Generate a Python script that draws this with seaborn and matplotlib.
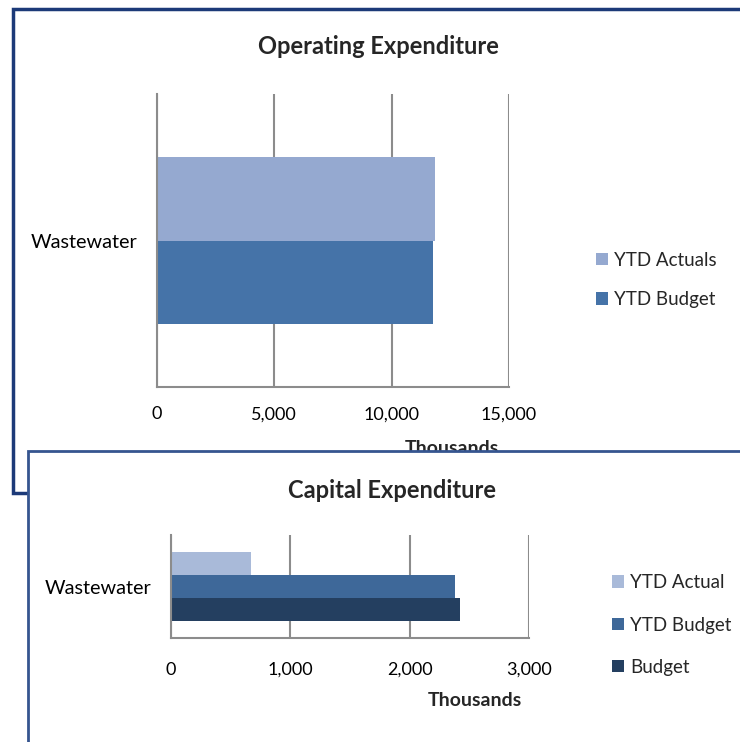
import numpy as np
import pandas as pd
import matplotlib
matplotlib.use("Agg")
import matplotlib.pyplot as plt
from matplotlib.patches import Rectangle
from matplotlib.ticker import FuncFormatter, MultipleLocator
import seaborn as sns

# Values in thousands
categories = ["Wastewater"]
opex_series = ["YTD Actuals", "YTD Budget"]
opex_values = [11850, 11760]
capex_series = ["YTD Actual", "YTD Budget", "Budget"]
capex_values = [670, 2380, 2425]

opex_colors = ["#95a9d0", "#4573a8"]
capex_colors = ["#a9bad9", "#3e6899", "#243f60"]

sns.set_theme(style="white")
plt.rcParams["font.family"] = ["Lato", "DejaVu Sans"]

W, H = 740, 742
fig = plt.figure(figsize=(W / 100, H / 100), dpi=100)
fig.patch.set_facecolor("white")


def fx(px):
    return px / W


def fy(py):
    return 1 - py / H


def add_frame(x0, y0, y1, edge, lw, z):
    rect = Rectangle((fx(x0), fy(y1)), 1.5, fy(y0) - fy(y1),
                     transform=fig.transFigure, facecolor="white",
                     edgecolor=edge, linewidth=lw, zorder=z)
    fig.add_artist(rect)


thousands = FuncFormatter(lambda v, _: f"{v:,.0f}")
GRID = "#8c8c8c"


def style_axis(ax, xmax, step, tick_pad, cat_pad):
    ax.set_xlim(0, xmax)
    ax.xaxis.set_major_locator(MultipleLocator(step))
    ax.xaxis.set_major_formatter(thousands)
    ax.grid(axis="x", color=GRID, linewidth=1.5)
    ax.grid(axis="y", visible=False)
    ax.set_axisbelow(True)
    for side in ("top", "right"):
        ax.spines[side].set_visible(False)
    for side in ("bottom", "left"):
        ax.spines[side].set_color(GRID)
        ax.spines[side].set_linewidth(1.5)
    ax.tick_params(axis="x", length=0, pad=tick_pad, labelsize=13, colors="black")
    ax.tick_params(axis="y", length=0, pad=cat_pad, labelsize=14.3, colors="black")
    ax.set_xlabel("")
    ax.set_ylabel("")
    ax.set_facecolor("none")


def place_legend(ax, x_px, y_px, spacing):
    h, l = ax.get_legend_handles_labels()
    ax.get_legend().remove()
    ax.legend(h, l, loc="center left", bbox_to_anchor=(fx(x_px), fy(y_px)),
              bbox_transform=fig.transFigure, frameon=False, fontsize=13.5,
              handlelength=0.65, handleheight=0.65, handletextpad=0.3,
              labelspacing=spacing, borderaxespad=0, borderpad=0)


# ---- Operating expenditure panel ----
add_frame(13, 9, 493, "#1c3a78", 2.5, 0.5)

opex = pd.DataFrame({
    "category": categories * len(opex_series),
    "series": opex_series,
    "value": opex_values,
})
ax1 = fig.add_axes([fx(157), fy(387), (509 - 157) / W, (387 - 94) / H])
ax1.set_zorder(1)
sns.barplot(data=opex, x="value", y="category", hue="series", orient="h",
            palette=opex_colors, saturation=1, width=0.571, linewidth=0,
            errorbar=None, ax=ax1)
style_axis(ax1, 15000, 5000, 14, 14)
place_legend(ax1, 596, 280, 1.2)

fig.text(fx(378), fy(47), "Operating Expenditure", ha="center", va="center",
         fontsize=17, fontweight="bold", zorder=1.5)
fig.text(fx(452), fy(449), "Thousands", ha="center", va="center",
         fontsize=14, fontweight="bold", zorder=1.5)

# ---- Capital expenditure panel ----
add_frame(28, 451, 900, "#35558f", 2.0, 2)

capex = pd.DataFrame({
    "category": categories * len(capex_series),
    "series": capex_series,
    "value": capex_values,
})
ax2 = fig.add_axes([fx(171), fy(638), (529 - 171) / W, (638 - 535) / H])
ax2.set_zorder(3)
sns.barplot(data=capex, x="value", y="category", hue="series", orient="h",
            palette=capex_colors, saturation=1, width=0.667, linewidth=0,
            errorbar=None, ax=ax2)
style_axis(ax2, 3000, 1000, 17, 14)
place_legend(ax2, 612, 625, 1.35)

fig.text(fx(392), fy(490), "Capital Expenditure", ha="center", va="center",
         fontsize=17, fontweight="bold", zorder=3.5)
fig.text(fx(475), fy(701), "Thousands", ha="center", va="center",
         fontsize=14, fontweight="bold", zorder=3.5)

fig.savefig("out.png", dpi=100)
